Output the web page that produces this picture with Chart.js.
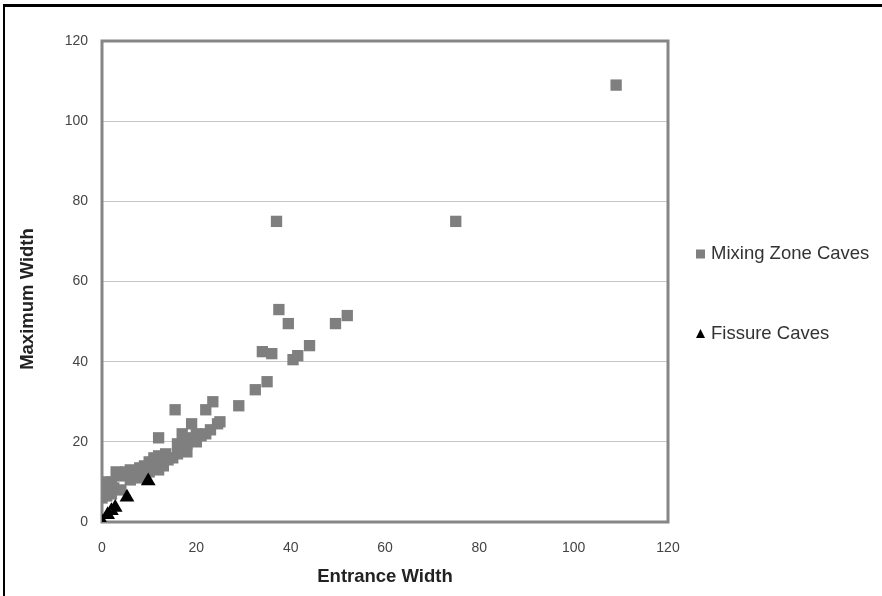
<!DOCTYPE html>
<html>
<head>
<meta charset="utf-8">
<script src="https://cdn.jsdelivr.net/npm/chart.js@4/dist/chart.umd.min.js"></script>
<style>
  html, body { margin: 0; padding: 0; background: #fff; }
  #wrap { position: relative; width: 882px; height: 596px; }
  #frame { position: absolute; left: 3px; top: 4px; right: 0; bottom: 0; border-left: 2px solid #000; border-top: 3px solid #000; pointer-events: none; }
</style>
</head>
<body>
<div id="wrap">
  <canvas id="chart" width="882" height="596"></canvas>
  <div id="frame"></div>
</div>
<script>
const xTicks = [0, 20, 40, 60, 80, 100, 120];
const yTicks = [0, 20, 40, 60, 80, 100, 120];

const seriesNames = ["Mixing Zone Caves", "Fissure Caves"];

// entrance width / maximum width
const mixingX = [109, 75, 37, 37.5, 39.5, 49.5, 52, 44, 41.5, 40.5, 34, 36, 35, 32.5, 29, 23.5, 22, 15.5, 25, 24.5,
  19, 12, 23, 22, 21, 20, 20, 19, 18, 18, 17, 17, 16, 16, 15, 14, 13.5, 13, 12, 12,
  11, 11, 10, 10, 9, 9, 8, 8, 7, 6, 6, 5, 4, 4, 2.5, 3, 2, 2, 1, 1, 0.5, 0, 0];
const mixingY = [109, 75, 75, 53, 49.5, 49.5, 51.5, 44, 41.5, 40.5, 42.5, 42, 35, 33, 29, 30, 28, 28, 25, 24.5,
  24.5, 21, 23, 22, 21.5, 22, 20, 21, 19.5, 17.5, 22, 18.5, 17, 19.5, 16, 15.5, 17, 14, 16.5, 13,
  16, 14, 12.5, 15, 12, 14, 11, 13.5, 12, 10.5, 13, 12.5, 11.5, 8, 8.5, 12.5, 10, 7, 9, 6.5, 10, 8, 6];

const fissureX = [0, 1.2, 2, 2.8, 5.3, 9.8];
const fissureY = [0, 1.8, 2.8, 3.6, 6.2, 10.2];

const toPoints = (xs, ys) => xs.map((x, i) => ({ x: x, y: ys[i] }));

const FONT = "'Liberation Sans', Arial, sans-serif";

const extras = {
  id: "extras",
  beforeDatasetsDraw(chart) {
    const { ctx, chartArea: a } = chart;
    ctx.save();
    ctx.strokeStyle = "#868686";
    ctx.lineWidth = 3;
    ctx.strokeRect(a.left, a.top, a.right - a.left, a.bottom - a.top);
    ctx.restore();
  },
  afterDraw(chart) {
    const ctx = chart.ctx;
    ctx.save();
    // y axis title
    ctx.translate(28, 299);
    ctx.rotate(-Math.PI / 2);
    ctx.font = "bold 18.5px " + FONT;
    ctx.fillStyle = "#222";
    ctx.textAlign = "center";
    ctx.textBaseline = "middle";
    ctx.fillText("Maximum Width", 0, 0);
    ctx.restore();

    // legend
    const rows = [254, 334];
    ctx.save();
    ctx.font = "18.5px " + FONT;
    ctx.textBaseline = "middle";
    ctx.textAlign = "left";
    chart.data.datasets.forEach((ds, i) => {
      const y = rows[i];
      ctx.fillStyle = ds.backgroundColor;
      if (ds.pointStyle === "rect") {
        ctx.fillRect(696, y - 4.5, 9, 9);
      } else {
        ctx.beginPath();
        ctx.moveTo(700.5, y - 5);
        ctx.lineTo(705, y + 4);
        ctx.lineTo(696, y + 4);
        ctx.closePath();
        ctx.fill();
      }
      ctx.fillStyle = "#333";
      ctx.fillText(ds.label, 711, y);
    });
    ctx.restore();
  }
};

new Chart(document.getElementById("chart"), {
  type: "scatter",
  data: {
    datasets: [
      {
        label: seriesNames[0],
        data: toPoints(mixingX, mixingY),
        pointStyle: "rect",
        pointRadius: 8,
        backgroundColor: "#7f7f7f",
        borderWidth: 0,
        order: 2
      },
      {
        label: seriesNames[1],
        data: toPoints(fissureX, fissureY),
        pointStyle: "triangle",
        pointRadius: 8.5,
        backgroundColor: "#000000",
        borderWidth: 0,
        order: 1
      }
    ]
  },
  options: {
    responsive: false,
    animation: false,
    layout: { padding: { top: 41, right: 214, bottom: 0, left: 0 } },
    plugins: {
      legend: { display: false },
      tooltip: { enabled: false }
    },
    scales: {
      x: {
        min: xTicks[0],
        max: xTicks[xTicks.length - 1],
        afterBuildTicks: (s) => { s.ticks = xTicks.map((v) => ({ value: v })); },
        afterFit: (s) => { s.height = 74; },
        grid: { display: false, drawTicks: false },
        border: { display: false },
        ticks: { padding: 18, color: "#444", font: { family: FONT, size: 14 } },
        title: {
          display: true,
          text: "Entrance Width",
          color: "#222",
          font: { family: FONT, size: 18.5, weight: "bold" },
          padding: { top: 0, bottom: 8 }
        }
      },
      y: {
        min: yTicks[0],
        max: yTicks[yTicks.length - 1],
        afterBuildTicks: (s) => { s.ticks = yTicks.map((v) => ({ value: v })); },
        afterFit: (s) => { s.width = 102; },
        grid: { color: "#c6c6c6", lineWidth: 1, drawTicks: false },
        border: { display: false },
        ticks: { padding: 14, color: "#444", font: { family: FONT, size: 14 } }
      }
    }
  },
  plugins: [extras]
});
</script>
</body>
</html>
